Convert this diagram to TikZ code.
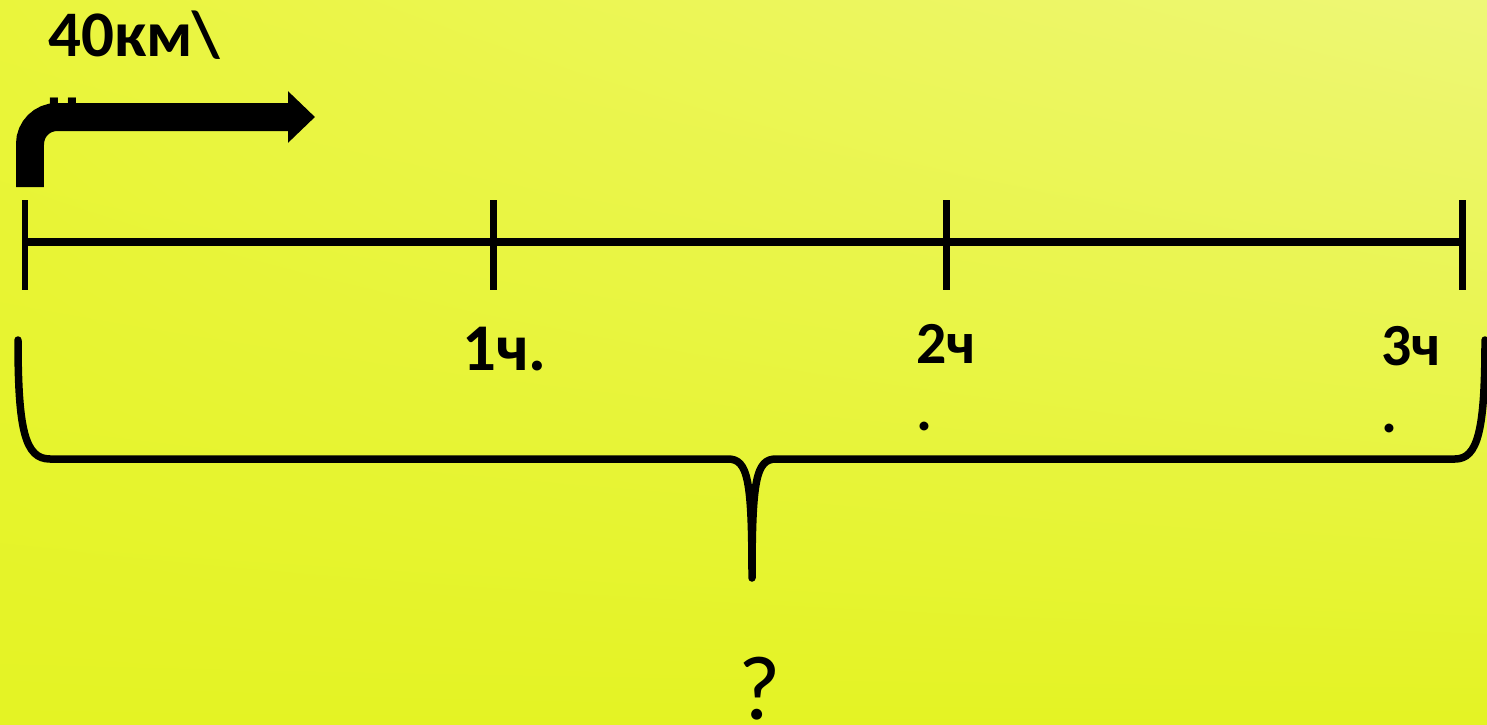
\documentclass[tikz,border=0pt]{standalone}
\usepackage{fontspec}
\setmainfont{Carlito}
\usetikzlibrary{arrows.meta,calc,shadings}

\definecolor{bgyellow}{RGB}{228,243,36}
\definecolor{bgmid}{RGB}{234,245,60}
\definecolor{bglight}{RGB}{238,247,120}

\begin{document}
\begin{tikzpicture}[
    x=0.02cm, y=-0.02cm,
    axis/.style={line width=0.15cm},
    hourtick/.style={line width=0.14cm},
    brc/.style={line width=0.15cm, line cap=round, line join=round},
    lbl/.style={font=\bfseries\fontsize{34}{38}\selectfont, inner sep=0pt, anchor=north west, align=left},
    bentarr/.style={line width=0.56cm, rounded corners=0.54cm, -{Triangle[length=0.54cm, width=1cm]}}
]
% background
\shade[upper left=bgmid, upper right=bglight, lower left=bgyellow, lower right=bgyellow]
    (0,0) rectangle (1487,724);
\useasboundingbox (0,0) rectangle (1487,724);
% speed label (second line hidden behind the arrow)
\node[lbl, font=\bfseries\fontsize{37}{41.5}\selectfont] (speed) at (48,11) {40км\textbackslash\\ч};
% bent arrow
\coordinate (a0) at (30,187);
\coordinate (a1) at (30,117);
\coordinate (a2) at (315,117);
\draw[bentarr] (a0) -- (a1) -- (a2);
% time axis
\coordinate (t0) at (25,242);
\coordinate (t1) at (493,242);
\coordinate (t2) at (946,242);
\coordinate (t3) at (1462,242);
\draw[axis] (t0) -- (t3);
\foreach \t in {t0,t1,t2,t3}
    \draw[hourtick] ($(\t)+(0,-42)$) -- ($(\t)+(0,48)$);
% hour labels
\node[lbl, font=\bfseries\fontsize{38}{42}\selectfont] (h1) at (462,327) {1ч.};
\node[lbl] (h2) at (916,324) {2ч\\.};
\node[lbl] (h3) at (1381,326) {3ч\\.};
% brace
\coordinate (bl) at (18,340);
\coordinate (bm) at (752,578);
\coordinate (br) at (1485,340);
\draw[brc] (bl) .. controls (18,430) and (25,459) .. (50,459) -- (728,459)
    .. controls (748,459) and (752,480) .. (bm)
    .. controls (752,480) and (756,459) .. (776,459) -- (1455,459)
    .. controls (1478,459) and (1485,430) .. (br);
% question
\node[font=\fontsize{52}{60}\selectfont, anchor=north, inner sep=0pt] (q) at (760,657) {?};
\end{tikzpicture}
\end{document}
